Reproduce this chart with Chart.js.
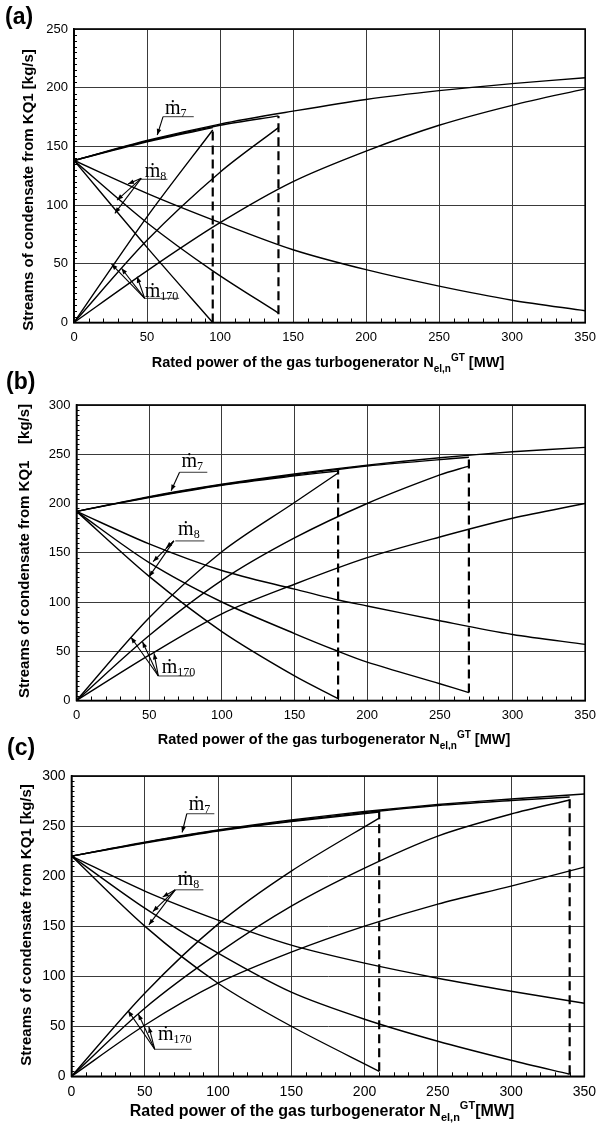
<!DOCTYPE html>
<html>
<head>
<meta charset="utf-8">
<script src="https://cdn.jsdelivr.net/npm/chart.js@4.4.1/dist/chart.umd.min.js"></script>
<style>
  body { margin: 0; background: #fff; width: 603px; height: 1125px; position: relative; overflow: hidden; }
  .panel { position: absolute; left: 0; width: 603px; height: 375px; }
  .tag { position: absolute; font: bold 23px "Liberation Sans", Arial, sans-serif; line-height: 26px; color: #000; }
</style>
</head>
<body>
<div class="panel" style="top:0"><canvas id="chartA"></canvas></div>
<div class="panel" style="top:375px"><canvas id="chartB"></canvas></div>
<div class="panel" style="top:750px"><canvas id="chartC"></canvas></div>
<div class="tag" style="left:5px;top:3px">(a)</div>
<div class="tag" style="left:6px;top:368px">(b)</div>
<div class="tag" style="left:7px;top:734px">(c)</div>
<script>
// rated power [MW] vs condensate streams [kg/s], pairs of [power, stream]
const powerTicks = [0, 50, 100, 150, 200, 250, 300, 350];

// (a)
const aM7Full   = [[0,138],[50,155],[100,169],[150,180],[200,190],[250,197.5],[300,203.5],[350,208.5]];
const aM7Mid    = [[0,138],[50,154.5],[100,168],[140,176]];
const aM7Short  = [[0,138],[50,154],[95,166]];
const aM170Full = [[0,0],[50,44],[100,85],[150,120],[200,146],[250,168],[300,185],[350,199]];
const aM170Mid  = [[0,0],[50,70],[100,128],[140,166]];
const aM170Short= [[0,0],[50,90],[95,164]];
const aM8Full   = [[0,138],[50,110],[100,85],[150,62],[200,45],[250,31],[300,19],[350,10]];
const aM8Mid    = [[0,138],[50,85],[95,44],[140,8]];
const aM8Short  = [[0,138],[50,64],[95,0]];
const aLimits   = [[95, 0, 167], [140, 7, 176]];

// (b)
const bM7Full   = [[0,192],[50,207],[100,219.5],[150,230],[200,239],[250,246.5],[300,252.5],[350,257]];
const bM7Mid    = [[0,192],[50,206.5],[100,219],[150,229],[200,238],[270,247]];
const bM7Short  = [[0,192],[50,206],[100,218.5],[150,228],[180,233]];
const bM170Full = [[0,0],[50,46],[100,88],[150,118],[200,145],[250,166],[300,185],[350,200]];
const bM170Mid  = [[0,0],[50,66],[100,122],[150,165],[200,200],[250,229],[270,238]];
const bM170Short= [[0,0],[50,84],[100,151],[150,201],[180,231]];
const bM8Full   = [[0,192],[50,159],[100,132],[150,113],[180,102],[200,96],[250,81],[300,67],[350,57]];
const bM8Mid    = [[0,192],[50,140],[100,100],[150,68],[180,50],[200,39],[250,17],[270,8]];
const bM8Short  = [[0,192],[50,126],[100,70],[150,25],[180,2]];
const bLimits   = [[180, 2, 234], [270, 8, 248]];

// (c)
const cM7Full   = [[0,220],[50,234],[100,246],[150,256],[200,264.5],[250,271.5],[300,277],[350,282]];
const cM7Mid    = [[0,220],[50,233.5],[100,245.5],[150,255],[200,263.5],[250,270.5],[300,275.5],[340,279]];
const cM7Short  = [[0,220],[50,233],[100,245],[150,254.5],[210,264]];
const cM170Full = [[0,0],[50,51],[100,93],[150,124],[200,150],[250,172],[300,190],[350,209]];
const cM170Mid  = [[0,0],[50,68],[100,123],[150,170],[200,208],[250,240],[300,262],[340,276]];
const cM170Short= [[0,0],[50,83],[100,152],[150,205],[210,258]];
const cM8Full   = [[0,220],[50,185],[100,156],[150,131],[200,113],[250,98],[300,85],[350,73]];
const cM8Mid    = [[0,220],[50,168],[100,123],[150,84],[200,57],[250,35],[300,16],[340,2]];
const cM8Short  = [[0,220],[50,150],[100,93],[150,50],[210,5]];
const cLimits   = [[210, 5, 266], [340, 2, 280]];

const SANS = '"Liberation Sans", Arial, sans-serif';
const SERIF = '"Liberation Serif", "DejaVu Serif", serif';

// frame, minor ticks, axis titles and the m-dot callouts
const decor = {
  id: 'decor',
  afterDraw(chart, args, o) {
    const ctx = chart.ctx, a = chart.chartArea;
    const xs = chart.scales.x, ys = chart.scales.y;
    ctx.save();
    ctx.strokeStyle = '#000';

    ctx.lineWidth = 1;
    ctx.beginPath();
    for (let v = 10; v < 350; v += 10) {
      if (v % 50 === 0) continue;
      const px = Math.round(xs.getPixelForValue(v)) + 0.5;
      ctx.moveTo(px, a.bottom); ctx.lineTo(px, a.bottom - 4);
    }
    for (let v = 5; v < ys.max; v += 5) {
      if (v % 50 === 0) continue;
      const py = Math.round(ys.getPixelForValue(v)) + 0.5;
      ctx.moveTo(a.left, py); ctx.lineTo(a.left + 3, py);
    }
    ctx.stroke();

    ctx.lineWidth = 1.6;
    ctx.strokeRect(a.left, a.top, a.right - a.left, a.bottom - a.top);

    // y title
    ctx.fillStyle = '#000';
    ctx.save();
    ctx.translate(o.yTitle.x, o.yTitle.y);
    ctx.rotate(-Math.PI / 2);
    ctx.font = `bold ${o.yTitle.size}px ${SANS}`;
    ctx.textAlign = 'center';
    ctx.textBaseline = 'middle';
    ctx.fillText(o.yTitle.text, 0, 0);
    ctx.restore();

    // x title with N_el,n^GT
    const t = o.xTitle, big = `bold ${t.size}px ${SANS}`, small = `bold ${Math.round(t.size * 0.7)}px ${SANS}`;
    const head = 'Rated power of the gas turbogenerator N', sub = 'el,n', sup = 'GT', tail = t.tail;
    ctx.font = big; const wHead = ctx.measureText(head).width, wTail = ctx.measureText(tail).width;
    ctx.font = small; const wSub = ctx.measureText(sub).width, wSup = ctx.measureText(sup).width;
    let x0 = t.x - (wHead + wSub + wSup + wTail) / 2;
    ctx.textAlign = 'left';
    ctx.textBaseline = 'alphabetic';
    const base = t.y + t.size * 0.36;
    ctx.font = big; ctx.fillText(head, x0, base); x0 += wHead;
    ctx.font = small; ctx.fillText(sub, x0, base + t.size * 0.3); x0 += wSub;
    ctx.fillText(sup, x0, base - t.size * 0.42); x0 += wSup;
    ctx.font = big; ctx.fillText(tail, x0, base);

    // callouts
    o.notes.forEach(n => {
      const tx = xs.getPixelForValue(n.at[0]), ty = ys.getPixelForValue(n.at[1]);
      ctx.font = `${o.noteSize}px ${SERIF}`;
      ctx.fillText('\u1E41', tx, ty);
      const wm = ctx.measureText('\u1E41').width;
      ctx.font = `${Math.round(o.noteSize * 0.6)}px ${SERIF}`;
      ctx.fillText(n.label, tx + wm, ty + 3);

      const by = ys.getPixelForValue(n.bar[2]);
      ctx.lineWidth = 0.9;
      ctx.strokeStyle = '#222';
      ctx.beginPath();
      ctx.moveTo(xs.getPixelForValue(n.bar[0]), by);
      ctx.lineTo(xs.getPixelForValue(n.bar[1]), by);
      ctx.stroke();

      const fx = xs.getPixelForValue(n.from[0]), fy = ys.getPixelForValue(n.from[1]);
      n.tips.forEach(tp => {
        const px = xs.getPixelForValue(tp[0]), py = ys.getPixelForValue(tp[1]);
        const ang = Math.atan2(py - fy, px - fx);
        ctx.strokeStyle = '#000';
        ctx.lineWidth = 1.1;
        ctx.beginPath(); ctx.moveTo(fx, fy); ctx.lineTo(px, py); ctx.stroke();
        ctx.beginPath();
        ctx.moveTo(px, py);
        ctx.lineTo(px - 6 * Math.cos(ang) + 2.3 * Math.sin(ang), py - 6 * Math.sin(ang) - 2.3 * Math.cos(ang));
        ctx.lineTo(px - 6 * Math.cos(ang) - 2.3 * Math.sin(ang), py - 6 * Math.sin(ang) + 2.3 * Math.cos(ang));
        ctx.closePath(); ctx.fill();
      });
    });
    ctx.restore();
  }
};

const toPoints = pts => pts.map(p => ({ x: p[0], y: p[1] }));

function makePanel(id, p) {
  const curves = p.series.map(s => ({
    data: toPoints(s),
    borderColor: '#000',
    borderWidth: 1.4,
    pointRadius: 0,
    showLine: true,
    fill: false,
    tension: 0.3
  }));
  const dashed = p.limits.map(l => ({
    data: [{ x: l[0], y: l[1] }, { x: l[0], y: l[2] }],
    borderColor: '#000',
    borderWidth: 2.2,
    borderDash: [9, 5],
    pointRadius: 0,
    showLine: true,
    fill: false
  }));
  const g = p.geo;
  return new Chart(document.getElementById(id), {
    type: 'scatter',
    data: { datasets: curves.concat(dashed) },
    options: {
      responsive: true,
      maintainAspectRatio: false,
      animation: false,
      layout: { padding: { top: g.top, right: g.right, left: 0, bottom: 0 } },
      plugins: {
        legend: { display: false },
        tooltip: { enabled: false },
        decor: { yTitle: p.yTitle, xTitle: p.xTitle, notes: p.notes, noteSize: p.noteSize }
      },
      scales: {
        x: {
          type: 'linear', min: 0, max: 350,
          afterBuildTicks: s => { s.ticks = powerTicks.map(v => ({ value: v })); },
          ticks: { color: '#000', font: { family: SANS, size: p.tickSize }, padding: 7, maxRotation: 0 },
          grid: { color: '#3a3a3a', lineWidth: 1, drawTicks: false },
          border: { color: '#000', width: 1.6 },
          afterFit: s => { s.height = g.xh; }
        },
        y: {
          type: 'linear', min: 0, max: p.yMax,
          ticks: { stepSize: 50, color: '#000', font: { family: SANS, size: p.tickSize }, padding: 6 },
          grid: { color: '#3a3a3a', lineWidth: 1, drawTicks: false },
          border: { color: '#000', width: 1.6 },
          afterFit: s => { s.width = g.left; }
        }
      }
    },
    plugins: [decor]
  });
}

makePanel('chartA', {
  series: [aM7Full, aM7Mid, aM7Short, aM170Full, aM170Mid, aM170Short, aM8Full, aM8Mid, aM8Short],
  limits: aLimits, yMax: 250, tickSize: 13, noteSize: 20,
  geo: { top: 29, left: 74, right: 16, xh: 52.5 },
  yTitle: { text: 'Streams of condensate from KQ1 [kg/s]', x: 29, y: 190, size: 15 },
  xTitle: { x: 328, y: 362, size: 14.5, tail: ' [MW]' },
  notes: [
    { label: '7', at: [62.3, 178], bar: [61, 82, 175.3], from: [61, 175.3], tips: [[57, 159.7]] },
    { label: '8', at: [48.4, 124.2], bar: [45, 64, 122], from: [46, 122.8], tips: [[37, 118], [29.5, 104.3], [28, 93]] },
    { label: '170', at: [48.4, 22], bar: [48.4, 72, 20.6], from: [48.4, 20.6], tips: [[25.7, 49.8], [32.5, 46.2], [43.2, 39]] }
  ]
});

makePanel('chartB', {
  series: [bM7Full, bM7Mid, bM7Short, bM170Full, bM170Mid, bM170Short, bM8Full, bM8Mid, bM8Short],
  limits: bLimits, yMax: 300, tickSize: 13, noteSize: 20,
  geo: { top: 30, left: 76.5, right: 11.5, xh: 49.5 },
  yTitle: { text: 'Streams of condensate from KQ1    [kg/s]', x: 25, y: 176, size: 15 },
  xTitle: { x: 334, y: 364, size: 14.5, tail: ' [MW]' },
  notes: [
    { label: '7', at: [72.2, 236.8], bar: [70.9, 90, 231.7], from: [70.9, 231.7], tips: [[65.1, 213]] },
    { label: '8', at: [69.9, 168], bar: [68, 88, 162], from: [67, 162], tips: [[61.7, 155], [52.7, 141], [50, 125.7]] },
    { label: '170', at: [58.6, 27.6], bar: [56.3, 80, 24.9], from: [56.3, 24.9], tips: [[37.5, 64.2], [45.4, 59.7], [53.4, 47.9]] }
  ]
});

makePanel('chartC', {
  series: [cM7Full, cM7Mid, cM7Short, cM170Full, cM170Mid, cM170Short, cM8Full, cM8Mid, cM8Short],
  limits: cLimits, yMax: 300, tickSize: 14, noteSize: 20,
  geo: { top: 26, left: 71.5, right: 11, xh: 48.7 },
  yTitle: { text: 'Streams of condensate from KQ1 [kg/s]', x: 27, y: 175, size: 15 },
  xTitle: { x: 322, y: 360, size: 16, tail: '[MW]' },
  notes: [
    { label: '7', at: [80, 266.3], bar: [78.7, 97.5, 262.3], from: [78.7, 262.3], tips: [[75.5, 243.6]] },
    { label: '8', at: [72.5, 191.3], bar: [70.8, 90, 186.3], from: [70.8, 186.3], tips: [[62.2, 179], [55.5, 164.6], [52.8, 151.3]] },
    { label: '170', at: [59, 36.3], bar: [56.8, 82, 27], from: [56.8, 27], tips: [[38.6, 65.6], [45.6, 62.3], [52.8, 49.6]] }
  ]
});
</script>
</body>
</html>
